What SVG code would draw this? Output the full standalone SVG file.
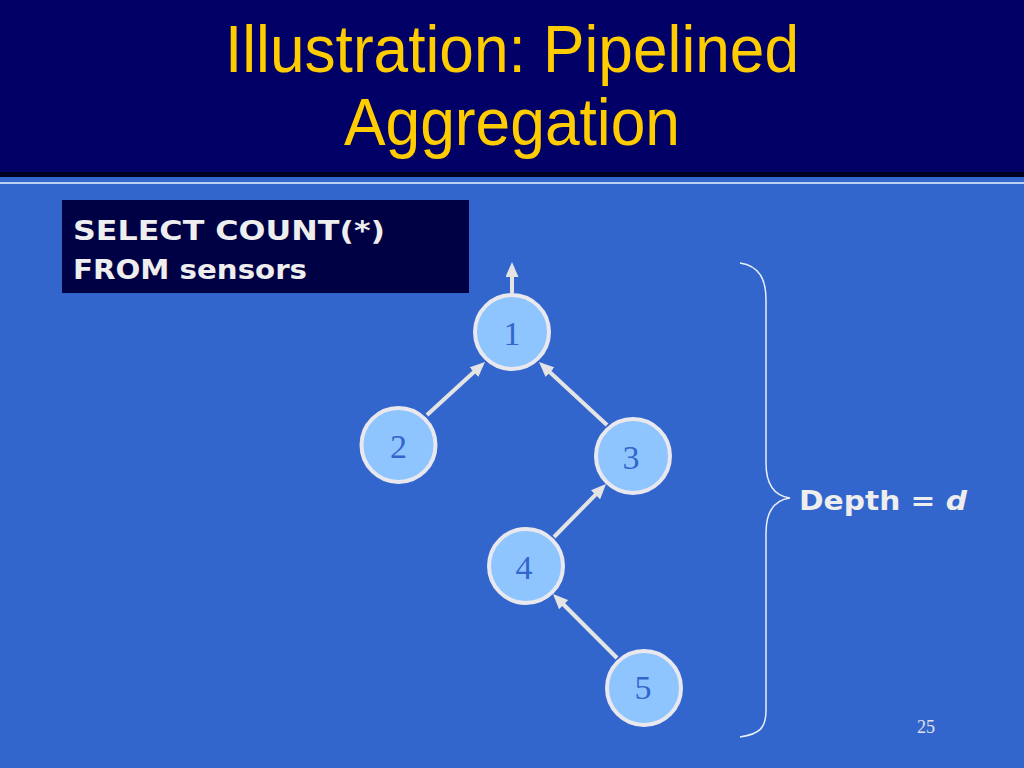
<svg xmlns="http://www.w3.org/2000/svg" width="1024" height="768" viewBox="0 0 1024 768">
<defs>
<style>
.title{font-family:"Liberation Sans",Arial,sans-serif;font-size:66px;fill:#FFCC00;text-anchor:middle}
.code{font-family:"DejaVu Sans","Liberation Sans",sans-serif;font-weight:bold;font-size:27px;fill:#EEEEEE}
.node circle{fill:#8EC5FF;stroke:#E8E8EE;stroke-width:4}
.node text{font-family:"Liberation Serif","Times New Roman",serif;font-size:34px;fill:#3366CC;text-anchor:middle}
.edge{stroke:#E4E4E4;stroke-width:4;fill:none;marker-end:url(#arr)}
</style>
<marker id="arr" markerUnits="userSpaceOnUse" markerWidth="15" markerHeight="13" refX="3" refY="6.5" orient="auto">
<path d="M0,0 L15,6.5 L0,13 z" fill="#E4E4E4"/>
</marker>
</defs>
<rect x="0" y="0" width="1024" height="768" fill="#3366CC"/>
<g id="header">
<rect x="0" y="0" width="1024" height="172" fill="#000066"/>
<rect x="0" y="172" width="1024" height="5" fill="#000022"/>
<rect x="0" y="182" width="1024" height="2" fill="#B8D0F4"/>
<text class="title" x="512" y="72" textLength="574" lengthAdjust="spacingAndGlyphs">Illustration: Pipelined</text>
<text class="title" x="512" y="145" textLength="336" lengthAdjust="spacingAndGlyphs">Aggregation</text>
</g>
<g id="query">
<rect x="62" y="200" width="407" height="93" fill="#000044"/>
<text class="code" x="73" y="240" textLength="312" lengthAdjust="spacingAndGlyphs">SELECT COUNT(*)</text>
<text class="code" x="73" y="279" textLength="234" lengthAdjust="spacingAndGlyphs">FROM sensors</text>
</g>
<g id="connectors">
<line class="edge" x1="512" y1="293" x2="512" y2="274"/>
<line class="edge" x1="427" y1="415" x2="476.1" y2="370.1"/>
<line class="edge" x1="607" y1="425" x2="547.8" y2="370.2"/>
<line class="edge" x1="554" y1="537" x2="597.6" y2="492.6"/>
<line class="edge" x1="617" y1="658" x2="561.5" y2="602.5"/>
</g>
<g id="node1" class="node"><circle cx="512" cy="332" r="37"/><text x="512" y="345">1</text></g>
<g id="node2" class="node"><circle cx="398.5" cy="445" r="37"/><text x="398.5" y="458">2</text></g>
<g id="node3" class="node"><circle cx="633" cy="456" r="37"/><text x="631" y="469">3</text></g>
<g id="node4" class="node"><circle cx="526" cy="566" r="37"/><text x="524" y="579">4</text></g>
<g id="node5" class="node"><circle cx="644" cy="688" r="37"/><text x="643" y="699">5</text></g>
<g id="brace">
<path d="M740,263 C760,266 766,280 766,300 L766,463 C766,485 775,496 790,498 C775,500 766,511 766,533 L766,710 C766,728 760,734 740,737" fill="none" stroke="#E8EEFA" stroke-width="1.5"/>
<text class="code" x="799" y="510" textLength="168" lengthAdjust="spacingAndGlyphs">Depth = <tspan font-style="italic">d</tspan></text>
</g>
<text x="926" y="733" font-family="Liberation Serif,serif" font-size="18" fill="#E0E0E8" text-anchor="middle">25</text>
</svg>
